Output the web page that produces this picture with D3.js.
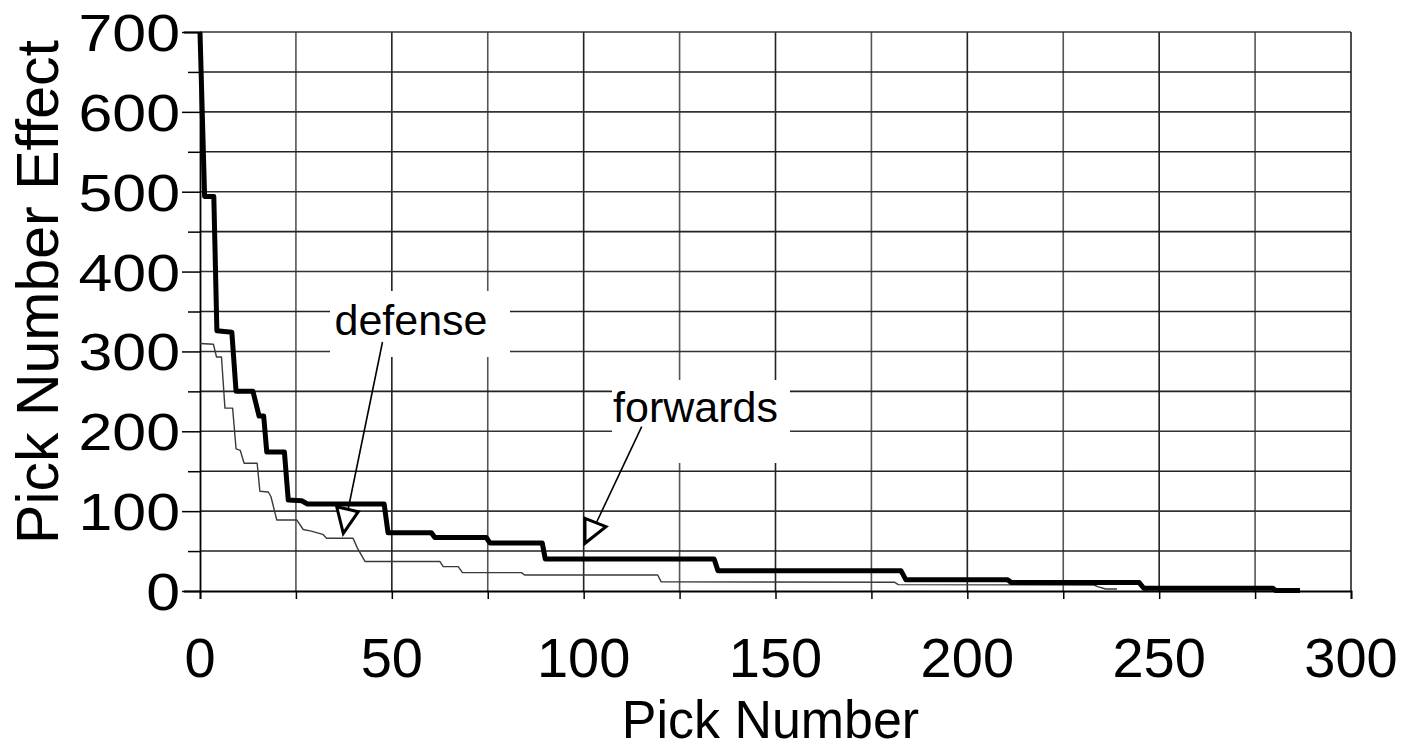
<!DOCTYPE html>
<html>
<head>
<meta charset="utf-8">
<script src="https://cdn.jsdelivr.net/npm/d3@7"></script>
<style>
  html, body { margin: 0; padding: 0; background: #fff; }
  svg { display: block; }
  text { font-family: "Liberation Sans", Arial, sans-serif; fill: #000; }
</style>
</head>
<body>
<svg id="chart" width="1417" height="750"></svg>
<script>
// ---- data ----
const forwardsPicks = [0, 1.2, 3.6, 4.4, 8.3, 9.4, 13.8, 15.4, 16.6, 17.4, 22.0, 23.0, 26.5, 28, 48, 49, 60.3, 61.2, 74.6, 75.6, 89.2, 90, 134, 135, 182.7, 184, 210.5, 211.5, 244.8, 246, 279.7, 280.4, 286.7];
const forwardsValues = [700, 494, 494, 326, 324, 250, 250, 219, 219, 174, 174, 114, 113, 109, 109, 73, 73, 67, 67, 60, 60, 40, 40, 25.5, 25.5, 14, 14, 10.5, 10.5, 3.4, 3.4, 0.5, 0.5];

const defensePicks = [0, 3.5, 4.3, 5.6, 6.5, 8.5, 9.4, 10.5, 11.5, 14.9, 15.6, 17.8, 18.5, 20, 25.2, 26.9, 29, 32, 33, 39.9, 41, 43, 62.5, 63.4, 67.3, 68.4, 83.8, 84.6, 119.3, 120.2, 181, 182, 233, 234, 236, 239];
const defenseValues = [310, 309, 293, 293, 229, 229, 178, 176, 160, 160, 125, 124, 118, 89, 89, 77, 75, 71, 66, 66, 54, 37, 37, 30.5, 30.5, 23, 23, 20, 20, 11.5, 11, 8, 7.5, 5.4, 2.5, 2.5];

const xTickValues = [0, 50, 100, 150, 200, 250, 300];
const yTickValues = [0, 100, 200, 300, 400, 500, 600, 700];
const xTitle = "Pick Number";
const yTitle = "Pick Number Effect";
const labelDefense = "defense";
const labelForwards = "forwards";

// ---- layout ----
const svg = d3.select("#chart");
const plotL = 200, plotR = 1351, plotT = 32, plotB = 591;
const x = d3.scaleLinear().domain([0, 300]).range([plotL, plotR]);
const y = d3.scaleLinear().domain([0, 700]).range([plotB, plotT]);

svg.append("rect").attr("width", 1417).attr("height", 750).attr("fill", "#fff");

// gridlines
const grid = svg.append("g");
grid.selectAll("line.v").data(d3.range(25, 301, 25)).enter().append("line")
  .attr("x1", d => x(d)).attr("x2", d => x(d))
  .attr("y1", y(0)).attr("y2", y(700))
  .attr("stroke", d => d % 50 === 0 ? "#222" : "#555").attr("stroke-width", 1.6);
grid.selectAll("line.h").data(d3.range(50, 701, 50)).enter().append("line")
  .attr("x1", x(0)).attr("x2", x(300))
  .attr("y1", d => y(d)).attr("y2", d => y(d))
  .attr("stroke", d => d % 100 === 0 ? "#333" : "#222").attr("stroke-width", 1.6);

// axes
const xAxis = d3.axisBottom(x).tickValues(d3.range(0, 301, 25)).tickSize(8).tickFormat("");
const yAxis = d3.axisLeft(y).tickValues(d3.range(0, 701, 50)).tickSize(16).tickFormat("");
const gx = svg.append("g").attr("transform", `translate(0,${plotB})`).call(xAxis);
const gy = svg.append("g").attr("transform", `translate(${plotL},0)`).call(yAxis);
[gx, gy].forEach(g => {
  g.select(".domain").attr("stroke", "#000").attr("stroke-width", 1.8);
  g.selectAll(".tick line").attr("stroke", "#000").attr("stroke-width", 1.5);
});
gy.selectAll(".tick line").attr("x2", d => d % 100 === 0 ? -18 : -12);

// tick labels
svg.append("g").selectAll("text").data(xTickValues).enter().append("text")
  .attr("x", d => x(d)).attr("y", 677)
  .attr("text-anchor", "middle").attr("font-size", 56)
  .text(d => d);
svg.append("g").selectAll("text").data(yTickValues).enter().append("text")
  .attr("transform", d => `translate(180,${y(d) + 19}) scale(1.17,1)`)
  .attr("text-anchor", "end").attr("font-size", 52)
  .text(d => d);

// axis titles
svg.append("text")
  .attr("transform", `translate(${(plotL + plotR) / 2 - 5},738) scale(0.98,1)`)
  .attr("text-anchor", "middle").attr("font-size", 53).text(xTitle);
svg.append("text")
  .attr("transform", `translate(58,292) rotate(-90)`)
  .attr("text-anchor", "middle").attr("font-size", 59).text(yTitle);

// white label boxes
const boxD = { x0: 330, x1: 510, y0: 291, y1: 357 };
const boxF = { x0: 612, x1: 790, y0: 380, y1: 463 };
[boxD, boxF].forEach(b => {
  svg.append("rect").attr("x", b.x0).attr("y", b.y0)
    .attr("width", b.x1 - b.x0).attr("height", b.y1 - b.y0).attr("fill", "#fff");
});

// series
const line = d3.line().x(d => x(d[0])).y(d => y(d[1]));
svg.append("path")
  .datum(d3.zip(defensePicks, defenseValues))
  .attr("d", line).attr("fill", "none")
  .attr("stroke", "#3a3a3a").attr("stroke-width", 1.4).attr("stroke-linejoin", "round");
svg.append("path")
  .datum(d3.zip(forwardsPicks, forwardsValues))
  .attr("d", line).attr("fill", "none")
  .attr("stroke", "#000").attr("stroke-width", 5).attr("stroke-linejoin", "round");

// annotations
function annotate(label, tx, ty, lx0, ly0, lx1, ly1, tri) {
  svg.append("text").attr("x", tx).attr("y", ty)
    .attr("text-anchor", "middle").attr("font-size", 43).text(label);
  svg.append("line").attr("x1", lx0).attr("y1", ly0).attr("x2", lx1).attr("y2", ly1)
    .attr("stroke", "#000").attr("stroke-width", 1.6);
  svg.append("polygon").attr("points", tri.map(p => p.join(",")).join(" "))
    .attr("fill", "#fff").attr("stroke", "#000").attr("stroke-width", 3).attr("stroke-linejoin", "miter");
}
annotate(labelDefense, 411, 335, 382.5, 342, 348.3, 508.5,
  [[336.7, 506.7], [358.3, 511.7], [343.3, 533.3]]);
annotate(labelForwards, 695.5, 422, 641.7, 426.7, 596.7, 522,
  [[585, 518.3], [606, 526.7], [585, 543.3]]);
</script>
</body>
</html>
